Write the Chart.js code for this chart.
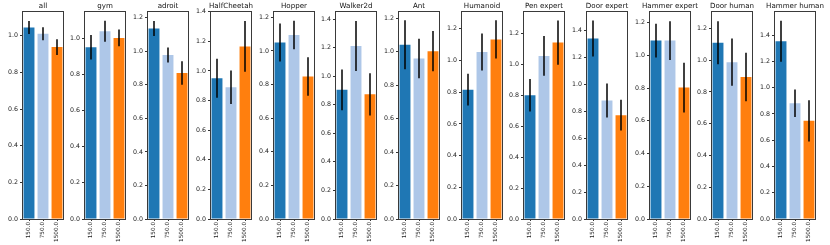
<!DOCTYPE html>
<html>
<head>
<meta charset="utf-8">
<script src="https://cdn.jsdelivr.net/npm/chart.js@4/dist/chart.umd.min.js"></script>
<style>
  html, body { margin: 0; padding: 0; background: #ffffff; }
  #wrap { position: relative; width: 830px; height: 245px; overflow: hidden; background: #fff; }
  #wrap canvas { position: absolute; top: 0; }
</style>
</head>
<body>
<div id="wrap"></div>
<script>
const titles = ['all', 'gym', 'adroit', 'HalfCheetah', 'Hopper', 'Walker2d', 'Ant', 'Humanoid',
                'Pen expert', 'Door expert', 'Hammer expert', 'Door human', 'Hammer human'];
const categories = ['150.0', '750.0', '1500.0'];

const means150  = [1.045, 0.950, 1.136, 0.951, 1.050, 0.904, 1.041, 0.816, 0.800, 1.341, 1.090, 1.110, 1.352];
const err150    = [0.035, 0.068, 0.045, 0.132, 0.113, 0.143, 0.146, 0.100, 0.105, 0.134, 0.103, 0.136, 0.156];
const means750  = [1.011, 1.039, 0.978, 0.890, 1.095, 1.211, 0.959, 1.053, 1.054, 0.881, 1.090, 0.988, 0.881];
const err750    = [0.035, 0.058, 0.045, 0.113, 0.085, 0.175, 0.118, 0.117, 0.129, 0.127, 0.119, 0.149, 0.105];
const means1500 = [0.938, 1.002, 0.871, 1.166, 0.848, 0.873, 1.003, 1.133, 1.140, 0.772, 0.803, 0.894, 0.747];
const err1500   = [0.043, 0.046, 0.070, 0.172, 0.115, 0.148, 0.120, 0.120, 0.143, 0.115, 0.152, 0.153, 0.157];

const axisMax = [1.135, 1.151, 1.240, 1.405, 1.238, 1.456, 1.243, 1.312, 1.344, 1.546, 1.271, 1.310, 1.583];
const yTickStep = 0.2;

const barColors = ['#1f77b4', '#aec7e8', '#ff7f0e'];
const FONT = 'DejaVu Sans';

const errorBarPlugin = {
  id: 'errorBars',
  afterDatasetsDraw(chart) {
    const ctx = chart.ctx;
    const meta = chart.getDatasetMeta(0);
    const ds = chart.data.datasets[0];
    const ys = chart.scales.y;
    ctx.save();
    ctx.strokeStyle = '#000';
    ctx.lineWidth = 1.5;
    meta.data.forEach((bar, k) => {
      const m = ds.data[k], e = ds.errors[k];
      ctx.beginPath();
      ctx.moveTo(bar.x, ys.getPixelForValue(m - e));
      ctx.lineTo(bar.x, ys.getPixelForValue(m + e));
      ctx.stroke();
    });
    ctx.restore();
  }
};

const framePlugin = {
  id: 'frame',
  afterDraw(chart) {
    const a = chart.chartArea, ctx = chart.ctx;
    ctx.save();
    ctx.strokeStyle = '#3a3a3a';
    ctx.lineWidth = 1;
    ctx.strokeRect(Math.round(a.left) + 0.5, Math.round(a.top) + 0.5,
                   Math.round(a.right - a.left) - 1, Math.round(a.bottom - a.top));
    ctx.fillStyle = '#111';
    ctx.font = '7.1px "' + FONT + '"';
    ctx.textAlign = 'center';
    ctx.textBaseline = 'alphabetic';
    ctx.fillText(chart.options.plugins.panelTitle, (a.left + a.right) / 2, a.top - 3);
    ctx.restore();
  }
};

const wrap = document.getElementById('wrap');
const YW = 21, PW = 42, RP = 20, CW = YW + PW + RP, H = 245;

titles.forEach((t, i) => {
  const c = document.createElement('canvas');
  c.width = CW; c.height = H;
  c.style.width = CW + 'px'; c.style.height = H + 'px';
  c.style.left = (Math.round(21.7 + 62.7 * i) - YW) + 'px';
  wrap.appendChild(c);
  new Chart(c.getContext('2d'), {
    type: 'bar',
    data: {
      labels: categories,
      datasets: [{
        data: [means150[i], means750[i], means1500[i]],
        errors: [err150[i], err750[i], err1500[i]],
        backgroundColor: barColors,
        borderWidth: 0,
        barPercentage: 0.78,
        categoryPercentage: 1.0
      }]
    },
    options: {
      responsive: false,
      animation: false,
      devicePixelRatio: 1,
      layout: { padding: { top: 11, left: 0, right: RP, bottom: 0 } },
      plugins: {
        legend: { display: false },
        title: { display: false },
        tooltip: { enabled: false },
        panelTitle: t
      },
      scales: {
        x: {
          offset: true,
          grid: { display: true, drawOnChartArea: false, drawTicks: true, tickLength: 2, offset: false, color: '#333' },
          border: { display: false },
          ticks: {
            color: '#222', font: { family: FONT, size: 5.7 }, padding: 1,
            maxRotation: 90, minRotation: 90, autoSkip: false
          },
          afterFit(s) { s.height = 26; s.paddingLeft = 0; s.paddingRight = 0; }
        },
        y: {
          min: 0, max: axisMax[i],
          grid: { display: true, drawOnChartArea: false, drawTicks: true, tickLength: 2, color: '#333' },
          border: { display: false },
          ticks: {
            stepSize: yTickStep, includeBounds: false,
            color: '#222', font: { family: FONT, size: 6.3 }, padding: 2,
            callback: v => Number(v).toFixed(1)
          },
          afterFit(s) { s.width = YW; s.paddingTop = 0; s.paddingBottom = 0; }
        }
      }
    },
    plugins: [errorBarPlugin, framePlugin]
  });
});
</script>
</body>
</html>
